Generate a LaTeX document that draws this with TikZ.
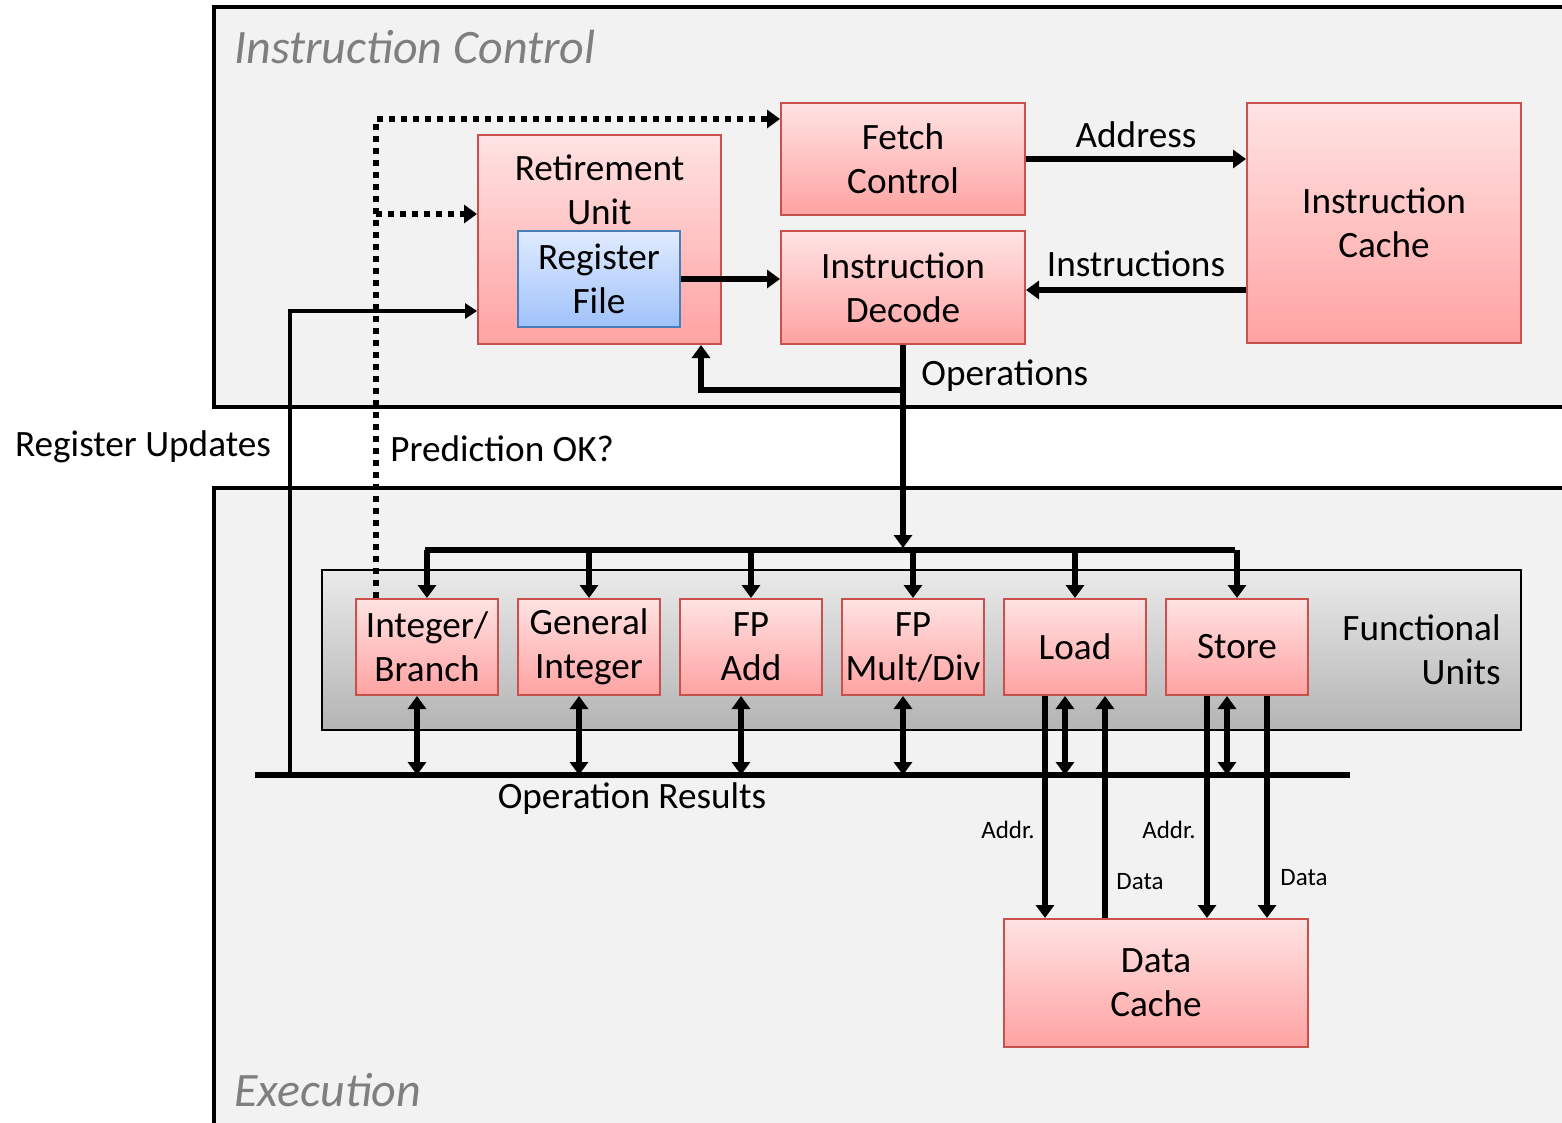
\documentclass[tikz,border=0pt]{standalone}
\usepackage{fontspec}
\setmainfont{Carlito}
\usetikzlibrary{arrows.meta}

\definecolor{panel}{HTML}{F2F2F2}
\definecolor{redtop}{HTML}{FFE3E3}
\definecolor{redbot}{HTML}{FFA2A2}
\definecolor{redline}{HTML}{C8504D}
\definecolor{bluetop}{HTML}{E0EBFF}
\definecolor{bluebot}{HTML}{A0C2FA}
\definecolor{blueline}{HTML}{4A7EBB}
\definecolor{fugtop}{HTML}{EAEAEA}
\definecolor{fugbot}{HTML}{B4B4B4}
\definecolor{titlegray}{HTML}{7F7F7F}

\tikzset{
  txt/.style={font=\fontsize{18.6}{22}\selectfont, align=center, inner sep=0pt},
  smalltxt/.style={font=\fontsize{12.5}{15}\selectfont, inner sep=0pt},
  title/.style={font=\fontsize{24}{28}\selectfont\itshape, text=titlegray, inner sep=0pt, anchor=west},
  redbox/.style={draw=redline, line width=1pt, top color=redtop, bottom color=redbot,
    txt, minimum width=#1},
  redbox/.default=71pt,
  bluebox/.style={draw=blueline, line width=1pt, top color=bluetop, bottom color=bluebot,
    txt, minimum width=81pt, minimum height=48pt},
  panelbox/.style={draw=black, line width=2pt, fill=panel},
  arr/.style={line width=3pt, -{Triangle[length=6.5pt,width=9pt]}},
  dblarr/.style={line width=3pt, {Triangle[length=6.5pt,width=9pt]}-{Triangle[length=6.5pt,width=9pt]}},
  thinarr/.style={line width=1.6pt, -{Triangle[length=6pt,width=7.5pt]}},
  dotarr/.style={line width=3pt, dash pattern=on 3pt off 3pt, -{Triangle[length=6.5pt,width=9pt]}},
  bus/.style={line width=3pt},
}

\begin{document}
\begin{tikzpicture}[x=0.5pt,y=-0.5pt]
\useasboundingbox (0,0) rectangle (1562,1123);
\clip (0,0) rectangle (1562,1123);

% the two shaded panels
\draw[panelbox] (214,7) rectangle (1600,407);
\draw[panelbox] (214,488) rectangle (1600,1160);
\node[title] (ictitle) at (234,47) {Instruction Control};
\node[title] (extitle) at (234,1090) {Execution};

% instruction control blocks
\node[redbox=122pt, minimum height=56pt] (fetch) at (903,159) {Fetch\\Control};
\node[redbox=121.5pt, minimum height=104.5pt] (ret) at (599.5,239.5) {};
\node[txt] (rettxt) at (599.5,190) {Retirement\\Unit};
\node[bluebox] (regfile) at (599,279) {Register\\File};
\node[redbox=122pt, minimum height=56.5pt] (decode) at (903,287.5) {Instruction\\Decode};
\node[redbox=137pt, minimum height=120pt] (icache) at (1384,223) {Instruction\\Cache};

% functional units
\node[draw=black, line width=1pt, top color=fugtop, bottom color=fugbot,
      minimum width=599.5pt, minimum height=80pt, inner sep=0pt] (fu) at (921.5,650) {};
\node[txt, align=right, anchor=east] (futxt) at (1501,650) {Functional\\Units};
\node[redbox, minimum height=48pt] (intb) at (427,647) {Integer/\\Branch};
\node[redbox, minimum height=48pt] (gint) at (589,647) {General\\Integer};
\node[redbox, minimum height=48pt] (fpadd) at (751,647) {FP\\Add};
\node[redbox, minimum height=48pt] (fpmul) at (913,647) {FP\\Mult/Div};
\node[redbox, minimum height=48pt] (load) at (1075,647) {Load};
\node[redbox, minimum height=48pt] (store) at (1237,647) {Store};
\node[redbox=152pt, minimum height=64pt] (dcache) at (1156,983) {Data\\Cache};

% junction points
\coordinate (busT) at (903,550);
\coordinate (busL) at (425,550);
\coordinate (busR) at (1235,550);
\coordinate (opsJ) at (903,390);
\coordinate (retJ) at (701,390);
\coordinate (resL) at (255,775);
\coordinate (resR) at (1350,775);
\coordinate (regJ) at (290,775);
\coordinate (predJ) at (376,119);

% fetch / decode paths
\draw[arr] (fetch.east) -- (fetch.east -| icache.west)
  node[txt, midway, above=4pt] (addrlbl) {Address};
\draw[arr] (icache.west |- 0,290) -- (decode.east |- 0,290)
  node[txt, midway, above=5pt] (instrlbl) {Instructions};
\draw[arr] (regfile.east) -- (regfile.east -| decode.west);

% operations to the functional units
\draw[arr] (decode.south) -- ([yshift=1pt]busT);
\node[txt, anchor=west] (opslbl) at (921,376) {Operations};
\draw[arr] (opsJ) -- (retJ) -- (retJ |- ret.south);
\draw[bus] (busL) -- (busR);
\foreach \u in {intb,gint,fpadd,fpmul,load,store}
  \draw[arr] (\u.north |- busT) -- (\u.north);

% operation results bus
\draw[bus] (resL) -- (resR);
\node[txt] (reslbl) at (632,799) {Operation Results};
\foreach \u in {intb,gint,fpadd,fpmul}
  \draw[dblarr] ([xshift=-5pt]\u.south) -- ([xshift=-5pt]\u.south |- resL);
\draw[dblarr] ([xshift=-5pt]load.south) -- ([xshift=-5pt]load.south |- resL);
\draw[dblarr] ([xshift=-5pt]store.south) -- ([xshift=-5pt]store.south |- resL);

% data cache traffic
\draw[arr] ([xshift=-15pt]load.south) -- ([xshift=-15pt]load.south |- dcache.north);
\draw[arr] ([xshift=15pt]load.south |- dcache.north) -- ([xshift=15pt]load.south);
\draw[arr] ([xshift=-15pt]store.south) -- ([xshift=-15pt]store.south |- dcache.north);
\draw[arr] ([xshift=15pt]store.south) -- ([xshift=15pt]store.south |- dcache.north);
\node[smalltxt] (la) at (1008,830) {Addr.};
\node[smalltxt] (ld) at (1140,882) {Data};
\node[smalltxt] (sa) at (1169,830) {Addr.};
\node[smalltxt] (sd) at (1304,878) {Data};

% register updates
\draw[thinarr] (regJ) |- ([yshift=-35.75pt]ret.west);
\node[txt] (reglbl) at (143,447) {Register Updates};

% branch prediction feedback
\draw[dotarr] ([xshift=-25.5pt]intb.north) -- (predJ) -- ([yshift=20pt]fetch.west);
\draw[dotarr] (predJ |- 0,214) -- ([yshift=12.75pt]ret.west);
\node[txt, anchor=west] (predlbl) at (390,449) {Prediction OK?};
\end{tikzpicture}
\end{document}
